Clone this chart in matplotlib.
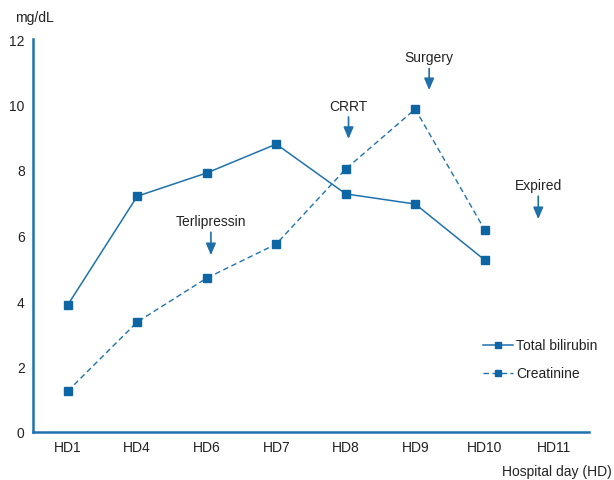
import matplotlib
matplotlib.use("Agg")
import matplotlib.pyplot as plt

plt.rcParams['font.family'] = ['Liberation Sans', 'DejaVu Sans']

days = ["HD1", "HD4", "HD6", "HD7", "HD8", "HD9", "HD10", "HD11"]
bilirubin = [3.88, 7.2, 7.91, 8.79, 7.27, 6.96, 5.25]
creatinine = [1.25, 3.36, 4.70, 5.74, 8.03, 9.86, 6.17]
events = ["Terlipressin", "CRRT", "Surgery", "Expired"]
event_x = [2.06, 4.04, 5.2, 6.77]
event_top = [6.1, 9.62, 11.1, 7.2]
event_tip = [5.4, 8.95, 10.44, 6.5]

line_c = "#1f72ad"
mark_c = "#0d66a3"
arrow_c = "#1f6fa8"
text_c = "#222222"

W, H = 614, 481
fig = plt.figure(figsize=(W/100, H/100), dpi=100)
ax = fig.add_axes([33/W, (H-433)/H, (589-33)/W, (433-40)/H])

x = list(range(len(days)))
ax.plot(x[:len(bilirubin)], bilirubin, color=line_c, lw=1.1, marker='s', ms=5.2,
        mfc=mark_c, mec=mark_c, label="Total bilirubin")
ax.plot(x[:len(creatinine)], creatinine, color=line_c, lw=1.0, ls=(0, (4, 2.5)), marker='s', ms=5.2,
        mfc=mark_c, mec=mark_c, label="Creatinine")

for name, ex, top, tip in zip(events, event_x, event_top, event_tip):
    ax.annotate("", xy=(ex, tip), xytext=(ex, top),
                arrowprops=dict(arrowstyle="-|>,head_length=0.7,head_width=0.3", color=arrow_c,
                                lw=1.2, shrinkA=0, shrinkB=0))
    ax.text(ex, top + 0.13, name, ha='center', va='bottom', fontsize=10, color=text_c)

ax.set_xlim(-0.5, 7.5)
ax.set_ylim(0, 12)
ax.set_xticks(x)
ax.set_xticklabels(days)
ax.set_yticks([0, 2, 4, 6, 8, 10, 12])
ax.tick_params(length=0, labelsize=10, colors=text_c)
ax.tick_params(axis='x', pad=6)
ax.tick_params(axis='y', pad=6)
for s in ['top', 'right']:
    ax.spines[s].set_visible(False)
for s in ['left', 'bottom']:
    ax.spines[s].set_color(line_c)
    ax.spines[s].set_linewidth(1.8)

fig.text(34/W, (H-18)/H, "mg/dL", ha='center', va='center', fontsize=10, color=text_c)
fig.text(612/W, (H-476)/H, "Hospital day (HD)", ha='right', va='baseline', fontsize=10, color=text_c)

leg = ax.legend(loc='upper left', bbox_to_anchor=((470-33)/(589-33), (433-327)/(433-40)),
                frameon=False, fontsize=10, handlelength=2.2, labelspacing=1.0,
                handletextpad=0.2, markerscale=0.9)
for t in leg.get_texts():
    t.set_color(text_c)

fig.savefig("out.png", dpi=100)
